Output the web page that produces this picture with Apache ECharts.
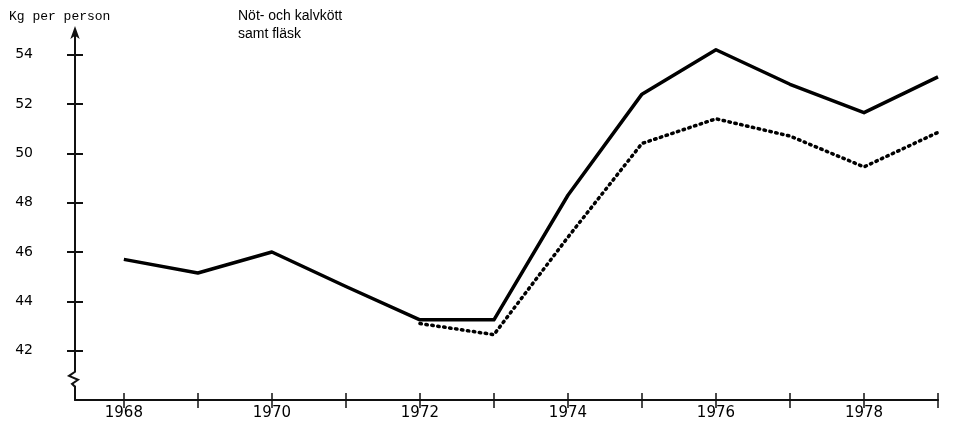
<!DOCTYPE html>
<html>
  <head>
    <meta charset="utf-8" />
    <title>Nöt- och kalvkött samt fläsk</title>
    <script src="https://cdn.jsdelivr.net/npm/echarts@6/dist/echarts.min.js"></script>
    <style>
      body { margin: 0; background: #fff; }
    </style>
  </head>
  <body>
    <div id="main" style="width: 953px;height:434px;"></div>
    <script type="text/javascript">
// years on the x axis
var years = [1968, 1969, 1970, 1971, 1972, 1973, 1974, 1975, 1976, 1977, 1978, 1979];
var yearLabels = [1968, 1970, 1972, 1974, 1976, 1978];
var yTicks = [42, 44, 46, 48, 50, 52, 54];
// kg per person, solid line
var solidValues = [45.7, 45.15, 46.0, 44.6, 43.25, 43.25, 48.3, 52.4, 54.2, 52.8, 51.65, 53.1];
// dotted line (starts 1972)
var dottedValues = [null, null, null, null, 43.1, 42.65, 46.6, 50.4, 51.4, 50.7, 49.45, 50.85];

var pairs = function (vals) {
  var out = [];
  years.forEach(function (y, i) {
    if (vals[i] != null) out.push([y, vals[i]]);
  });
  return out;
};

var myChart = echarts.init(document.getElementById('main'));

myChart.setOption({
  backgroundColor: '#fff',
  animation: false,
  title: [
    {
      text: 'Kg per person',
      left: 4, top: 5,
      textStyle: { fontFamily: 'Liberation Mono', fontSize: 13, fontWeight: 'normal', color: '#000' }
    },
    {
      text: 'Nöt- och kalvkött\nsamt fläsk',
      left: 233, top: 2,
      textStyle: { fontFamily: 'Liberation Sans', fontSize: 14, fontWeight: 'normal', color: '#000', lineHeight: 18 }
    }
  ],
  grid: { left: 75, right: 15, top: 30, bottom: 34, containLabel: false },
  xAxis: [
    {
      type: 'value', min: 1967.34, max: 1979,
      splitLine: { show: false },
      axisLine: { lineStyle: { color: '#111', width: 2 } },
      axisTick: { show: true, length: 8, customValues: years, lineStyle: { color: '#111', width: 1.5 } },
      axisLabel: {
        customValues: yearLabels, margin: 6, fontSize: 15, fontFamily: 'DejaVu Sans', color: '#000',
        formatter: function (v) { return String(v); }
      }
    },
    {
      type: 'value', min: 1967.34, max: 1979, position: 'bottom',
      splitLine: { show: false },
      axisLine: { show: false },
      axisTick: { show: true, inside: true, length: 7, customValues: years, lineStyle: { color: '#111', width: 1.5 } },
      axisLabel: { show: false }
    }
  ],
  yAxis: [
    {
      type: 'value', min: 40, max: 55,
      splitLine: { show: false },
      axisLine: { show: true, symbol: ['none', 'arrow'], symbolSize: [7, 13], symbolOffset: [0, 4], lineStyle: { color: '#111', width: 2 } },
      axisTick: { show: true, length: 8, customValues: yTicks, lineStyle: { color: '#111', width: 2 } },
      axisLabel: { customValues: yTicks, margin: 42, fontSize: 14, fontFamily: 'DejaVu Sans', color: '#000' }
    },
    {
      type: 'value', min: 40, max: 55, position: 'left',
      splitLine: { show: false },
      axisLine: { show: false },
      axisTick: { show: true, inside: true, length: 8, customValues: yTicks, lineStyle: { color: '#111', width: 2 } },
      axisLabel: { show: false }
    }
  ],
  series: [
    {
      name: 'solid',
      type: 'line',
      data: pairs(solidValues),
      showSymbol: false,
      lineStyle: { color: '#000', width: 3.5, join: 'round' }
    },
    {
      name: 'dotted',
      type: 'line',
      data: pairs(dottedValues),
      showSymbol: false,
      lineStyle: { color: '#000', width: 3.5, type: [1.5, 4.5], cap: 'round' }
    }
  ]
});

// axis break squiggle near the bottom of the y axis
var p = myChart.convertToPixel({ gridIndex: 0 }, [1967.34, 40.9]);
var ax = p[0], ay = p[1];
myChart.setOption({
  graphic: [
    { type: 'rect', shape: { x: ax - 4, y: ay - 8, width: 8, height: 16 }, style: { fill: '#fff' }, z: 100 },
    {
      type: 'polyline', z: 101,
      shape: { points: [[ax, ay - 9], [ax, ay - 6], [ax - 6, ay - 2], [ax + 3, ay + 2], [ax - 3, ay + 6], [ax, ay + 9]] },
      style: { stroke: '#111', lineWidth: 2, fill: null }
    }
  ]
});
    </script>
  </body>
</html>
